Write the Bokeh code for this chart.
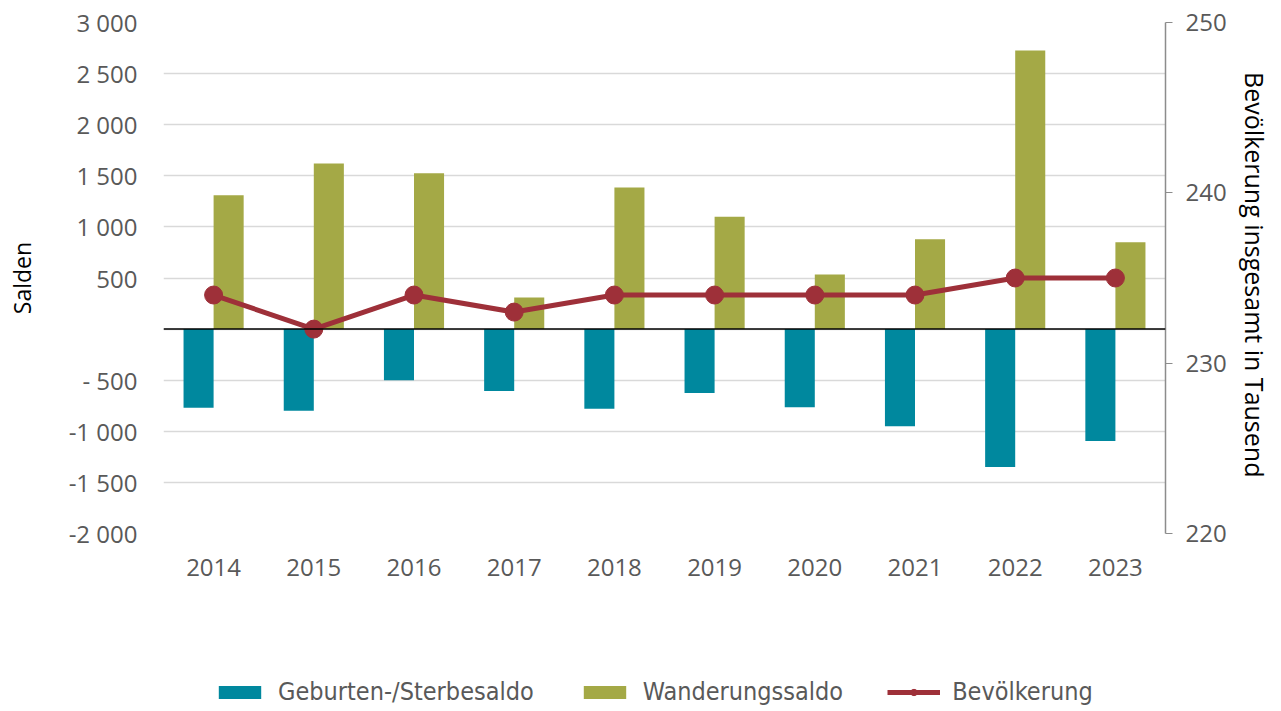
from bokeh.plotting import figure
from bokeh.layouts import column
from bokeh.models import (ColumnDataSource, Range1d, FactorRange, LinearAxis, FixedTicker,
                          CustomJSTickFormatter, Legend, LegendItem, Span)
from bokeh.transform import dodge
from bokeh.embed import file_html
from bokeh.resources import INLINE

years = ["2014", "2015", "2016", "2017", "2018", "2019", "2020", "2021", "2022", "2023"]
geburten = [-770, -800, -500, -605, -780, -625, -765, -950, -1350, -1095]
wanderung = [1310, 1620, 1525, 310, 1385, 1100, 535, 880, 2725, 850]
bevoelkerung = [234, 232, 234, 233, 234, 234, 234, 234, 235, 235]
series_names = ["Geburten-/Sterbesaldo", "Wanderungssaldo", "Bevölkerung"]
left_ticks = [-2000, -1500, -1000, -500, 0, 500, 1000, 1500, 2000, 2500, 3000]
right_ticks = [220, 230, 240, 250]

TEAL = "#00889E"
OLIVE = "#A4A946"
RED = "#9E3039"
GRAY = "#595959"
FONT = "Open Sans"

src = ColumnDataSource(dict(year=years, geb=geburten, wan=wanderung, bev=bevoelkerung))


def draw_series(fig):
    g = fig.vbar(x=dodge("year", -0.15, range=fig.x_range), top="geb", bottom=0, width=0.3,
                 source=src, fill_color=TEAL, line_color=None)
    w = fig.vbar(x=dodge("year", 0.15, range=fig.x_range), top="wan", bottom=0, width=0.3,
                 source=src, fill_color=OLIVE, line_color=None)
    l = fig.line(x="year", y="bev", source=src, y_range_name="pop", line_color=RED, line_width=5)
    d = fig.scatter(x="year", y="bev", source=src, y_range_name="pop", size=18,
                    fill_color=RED, line_color=RED)
    return g, w, l, d


p = figure(width=1275, height=660, x_range=FactorRange(*years), y_range=Range1d(-2000, 3000),
           output_backend="svg", toolbar_location=None,
           min_border_left=163, min_border_right=110, min_border_top=22, min_border_bottom=127)
p.outline_line_color = None
p.extra_y_ranges = {"pop": Range1d(220, 250)}
p.add_layout(Span(location=0, dimension="width", line_color="black", line_width=1.5))
draw_series(p)

# left axis
ya = p.yaxis[0]
ya.ticker = FixedTicker(ticks=left_ticks, minor_ticks=[])
ya.formatter = CustomJSTickFormatter(code="""
if (tick == 0) return "";
const a = Math.abs(tick);
let s = a >= 1000 ? Math.floor(a/1000) + " " + String(a % 1000).padStart(3, "0") : String(a);
if (tick < 0) return (a < 1000 ? "- " : "-") + s;
return s;
""")
ya.axis_line_color = None
ya.major_tick_line_color = None
ya.major_tick_out = 0
ya.major_tick_in = 0
ya.minor_tick_line_color = None
ya.major_label_text_font = FONT
ya.major_label_text_font_size = "24px"
ya.major_label_text_color = GRAY
ya.major_label_standoff = 26
ya.axis_label = "Salden"
ya.axis_label_text_font = FONT
ya.axis_label_text_font_style = "normal"
ya.axis_label_text_font_size = "23px"
ya.axis_label_text_color = "black"
ya.axis_label_standoff = 28

# right axis
ra = LinearAxis(y_range_name="pop", ticker=FixedTicker(ticks=right_ticks, minor_ticks=[]))
ra.axis_line_color = "#8C8C8C"
ra.axis_line_width = 1.5
ra.major_tick_line_color = "#8C8C8C"
ra.major_tick_out = 7
ra.major_tick_in = 0
ra.minor_tick_line_color = None
ra.major_label_text_font = FONT
ra.major_label_text_font_size = "24px"
ra.major_label_text_color = GRAY
ra.major_label_standoff = 13
ra.axis_label = "Bevölkerung  insgesamt in Tausend"
ra.axis_label_text_font = FONT
ra.axis_label_text_font_style = "normal"
ra.axis_label_text_font_size = "25px"
ra.axis_label_text_color = "black"
ra.axis_label_standoff = 8
p.add_layout(ra, "right")

# x axis
xa = p.xaxis[0]
xa.axis_line_color = None
xa.major_tick_line_color = None
xa.major_tick_out = 0
xa.major_tick_in = 0
xa.minor_tick_line_color = None
xa.major_label_text_font = FONT
xa.major_label_text_font_size = "24px"
xa.major_label_text_color = GRAY
xa.major_label_standoff = 25

p.xgrid.grid_line_color = None
p.ygrid.ticker = FixedTicker(ticks=left_ticks)
p.ygrid.grid_line_color = "#D9D9D9"
p.ygrid.grid_line_width = 1.5

# legend strip below the chart (same series, ranges chosen so no marks fall inside it)
leg = figure(width=1275, height=48, output_backend="svg", toolbar_location=None,
             x_range=p.x_range, y_range=Range1d(10000, 10001),
             min_border_left=163, min_border_right=110, min_border_top=0, min_border_bottom=0)
leg.extra_y_ranges = {"pop": Range1d(1000, 1001)}
leg.axis.visible = False
leg.grid.visible = False
leg.outline_line_color = None
lg_geb, lg_wan, lg_line, lg_dot = draw_series(leg)

legend = Legend(items=[
    LegendItem(label=series_names[0], renderers=[lg_geb]),
    LegendItem(label=series_names[1], renderers=[lg_wan]),
    LegendItem(label=series_names[2], renderers=[lg_line, lg_dot]),
], orientation="horizontal", location=(50, 2), margin=0, padding=0,
   glyph_width=53, glyph_height=16, label_standoff=12, spacing=44,
   label_text_font="DejaVu Sans Condensed", label_text_font_size="25px",
   label_text_color=GRAY, border_line_color=None, background_fill_alpha=0)
leg.add_layout(legend, "center")

open("out.html", "w").write(file_html(column(p, leg, spacing=0), INLINE))
